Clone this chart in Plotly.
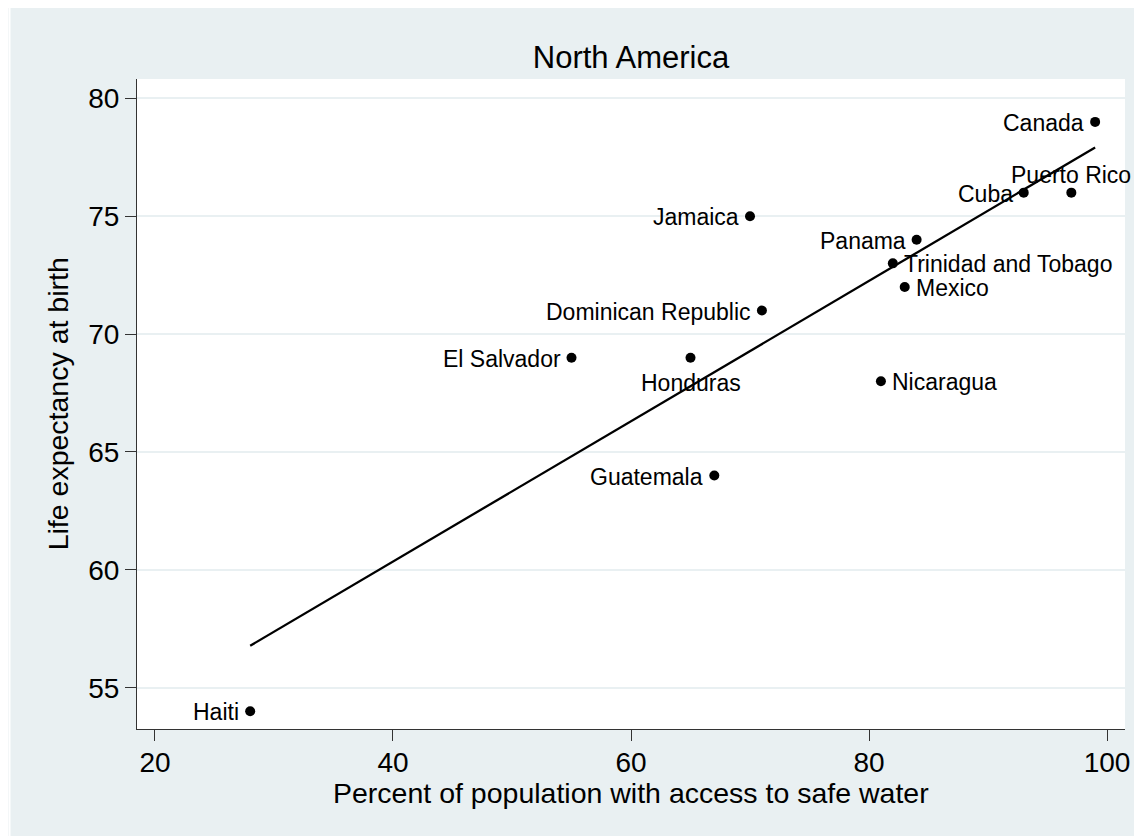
import numpy as np
import plotly.graph_objects as go

countries = ["Canada", "Puerto Rico", "Cuba", "Jamaica", "Panama", "Trinidad and Tobago",
             "Mexico", "Dominican Republic", "El Salvador", "Honduras", "Nicaragua",
             "Guatemala", "Haiti"]
water = [99, 97, 93, 70, 84, 82, 83, 71, 55, 65, 81, 67, 28]
lifeexp = [79, 76, 76, 75, 74, 73, 72, 71, 69, 69, 68, 64, 54]
label_pos = ["left", "top", "left", "left", "left", "right", "right", "left", "left",
             "bottom", "right", "left", "left"]
x_ticks = [20, 40, 60, 80, 100]
y_ticks = [55, 60, 65, 70, 75, 80]

BG = "#e9f0f2"
FONT = "Liberation Sans, Arial, sans-serif"

# the page body adds an 8px margin, so the figure is drawn 8px smaller and offset
OFF = 8
W, H = 1142 - OFF, 836 - OFF
L, R, T, B = 137 - OFF, 1129 - OFF, 79 - OFF, 729 - OFF

slope, intercept = np.polyfit(water, lifeexp, 1)
fit_x = np.array([min(water), max(water)])
fit_y = intercept + slope * fit_x


def px_x(p):
    return (p - L) / (R - L)


def px_y(p):
    return (B - p) / (B - T)


fig = go.Figure()
fig.add_trace(go.Scatter(
    x=water, y=lifeexp, mode="markers", marker=dict(color="black", size=10),
    cliponaxis=False, showlegend=False, hoverinfo="text", text=countries))
fig.add_trace(go.Scatter(
    x=fit_x, y=fit_y, mode="lines", line=dict(color="black", width=2.3), showlegend=False))

anchor_style = {
    "left": dict(xanchor="right", yanchor="middle", xshift=-9, yshift=-1),
    "right": dict(xanchor="left", yanchor="middle", xshift=9, yshift=-1),
    "top": dict(xanchor="center", yanchor="bottom", xshift=0, yshift=3),
    "bottom": dict(xanchor="center", yanchor="top", xshift=0, yshift=-10),
}

annotations = []
for name, xv, yv, pos in zip(countries, water, lifeexp, label_pos):
    annotations.append(dict(
        text=name, x=xv, y=yv, xref="x", yref="y", showarrow=False,
        font=dict(size=23, family=FONT, color="black"), **anchor_style[pos]))

annotations += [
    dict(text="Percent of population with access to safe water", xref="paper", yref="paper",
         x=0.5, y=px_y(793 - OFF), xanchor="center", yanchor="middle", showarrow=False,
         font=dict(size=28.5, family=FONT, color="black")),
    dict(text="Life expectancy at birth", xref="paper", yref="paper",
         x=px_x(58 - OFF), y=0.5, xanchor="center", yanchor="middle", textangle=-90,
         showarrow=False, font=dict(size=28.5, family=FONT, color="black")),
]

fig.update_layout(
    width=W, height=H,
    margin=dict(l=L, r=W - R, t=T, b=H - B),
    paper_bgcolor=BG, plot_bgcolor="white",
    font=dict(family=FONT, color="black"),
    title=dict(text="North America", x=0.5, xref="paper", xanchor="center",
               y=1 - (57 - OFF) / H, yref="container", yanchor="middle",
               font=dict(size=31, family=FONT, color="black")),
    xaxis=dict(range=[18.49, 101.51], tickvals=x_ticks, showgrid=False, zeroline=False,
               showline=True, linecolor="#333333", linewidth=1.2, ticks="outside",
               ticklen=11, tickcolor="#333333", tickwidth=1.2, ticklabelstandoff=-3,
               tickfont=dict(size=28, family=FONT, color="black")),
    yaxis=dict(range=[53.25, 80.82], tickvals=y_ticks, showgrid=True, gridcolor=BG,
               gridwidth=1.5, zeroline=False,
               showline=True, linecolor="#333333", linewidth=1.2, ticks="outside",
               ticklen=11, tickcolor="#333333", tickwidth=1.2,
               tickfont=dict(size=28, family=FONT, color="black")),
    shapes=[
        dict(type="rect", xref="paper", yref="paper", x0=px_x(0), x1=px_x(10 - OFF),
             y0=px_y(H), y1=px_y(0), fillcolor="white", line=dict(width=0), layer="below"),
    ],
    annotations=annotations,
)

fig.write_html("out.html")
